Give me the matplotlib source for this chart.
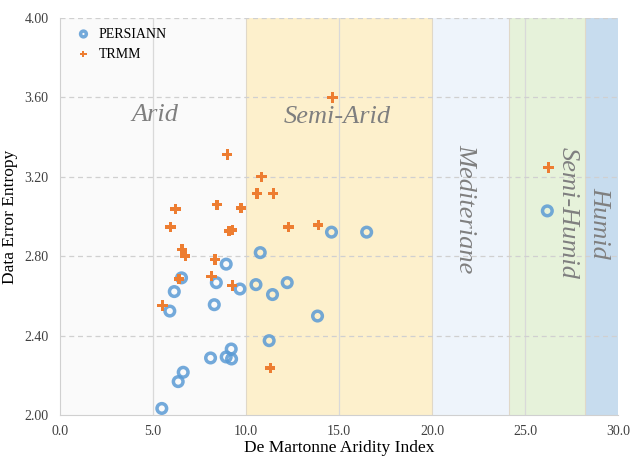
import numpy as np
import matplotlib.pyplot as plt

# PERSIANN points (aridity index, entropy)
persiann_x = [5.48, 5.91, 6.15, 6.54, 6.36, 6.63, 8.10, 8.30, 8.41, 8.94, 8.94, 9.21, 9.23,
              9.68, 10.54, 10.77, 11.43, 11.25, 12.22, 13.85, 14.6, 16.49, 26.2]
persiann_y = [2.035, 2.525, 2.623, 2.692, 2.170, 2.217, 2.289, 2.557, 2.668, 2.761, 2.294, 2.334, 2.284,
              2.636, 2.658, 2.819, 2.608, 2.376, 2.668, 2.500, 2.922, 2.922, 3.029]

# TRMM points
trmm_x = [14.66, 26.27, 9.0, 10.84, 10.59, 11.47, 8.44, 9.73, 6.22, 5.95, 9.09, 9.27, 12.29,
          13.89, 6.56, 6.74, 8.33, 8.15, 6.40, 9.27, 5.52, 11.31]
trmm_y = [3.60, 3.248, 3.313, 3.201, 3.117, 3.117, 3.06, 3.044, 3.038, 2.949, 2.927, 2.932, 2.949,
          2.957, 2.836, 2.801, 2.784, 2.700, 2.687, 2.653, 2.553, 2.238]

# climate zones
zone_names = ["Arid", "Semi-Arid", "Mediteriane", "Semi-Humid", "Humid"]
zone_bounds = [0, 10, 20, 24.15, 28.25, 30]
zone_colors = ["#fafafa", "#fdf0cc", "#eef4fb", "#e6f2da", "#c7dcee"]

xticks = [0, 5, 10, 15, 20, 25, 30]
yticks = [2.0, 2.4, 2.8, 3.2, 3.6, 4.0]

plt.rcParams['font.family'] = ['Liberation Serif', 'DejaVu Serif']

fig = plt.figure(figsize=(6.3, 4.59), dpi=100)
ax = fig.add_axes([0.095, 0.095, 0.886, 0.866])

for i in range(len(zone_names)):
    ax.axvspan(zone_bounds[i], zone_bounds[i + 1], color=zone_colors[i], zorder=0, lw=0)
for b in zone_bounds[1:-1]:
    ax.axvline(b, color='#e0d8c8', lw=0.8, zorder=0.5)

for x in [5, 15, 25]:
    ax.axvline(x, color='#d9d9d9', lw=0.9, zorder=1)
for y in yticks[1:]:
    ax.axhline(y, color='#d0d0d0', lw=0.9, ls=(0, (4, 3)), zorder=1)

ax.scatter(persiann_x, persiann_y, s=48, facecolors='none', edgecolors='#5b9bd5',
           linewidths=2.5, alpha=0.85, zorder=3, label='PERSIANN')
ax.scatter(trmm_x, trmm_y, s=55, marker='P', color='#ed7d31', edgecolors='none',
           zorder=4, label='TRMM')

lab_style = dict(color='#7f7f7f', fontsize=19, style='italic', zorder=2)
ax.text(5.1, 3.51, "Arid", ha='center', va='center', **lab_style)
ax.text(14.9, 3.50, "Semi-Arid", ha='center', va='center', **lab_style)
ax.text(21.8, 3.04, "Mediteriane", ha='center', va='center', rotation=-90, **lab_style)
ax.text(27.3, 3.02, "Semi-Humid", ha='center', va='center', rotation=-90, **lab_style)
ax.text(29.0, 2.97, "Humid", ha='center', va='center', rotation=-90, **lab_style)

ax.set_xlim(0, 30)
ax.set_ylim(2.0, 4.0)
ax.set_xticks(xticks)
ax.set_xticklabels([f"{v:.1f}" for v in xticks])
ax.set_yticks(yticks)
ax.set_yticklabels([f"{v:.2f}" for v in yticks])
ax.tick_params(axis='x', length=0, labelsize=10, colors='#404040', pad=7)
ax.tick_params(axis='y', length=0, labelsize=10, colors='#404040', pad=8)
ax.set_xlabel("De Martonne Aridity Index", fontsize=12.5, labelpad=1)
ax.set_ylabel("Data Error Entropy", fontsize=12.5, labelpad=5)

for s in ['top', 'right']:
    ax.spines[s].set_visible(False)
for s in ['left', 'bottom']:
    ax.spines[s].set_color('#d0d0d0')

leg = ax.legend(loc='upper left', frameon=False, fontsize=10, handletextpad=0.1,
                markerscale=0.6, borderaxespad=0.3, labelspacing=0.5)

fig.savefig("out.png", dpi=100)
